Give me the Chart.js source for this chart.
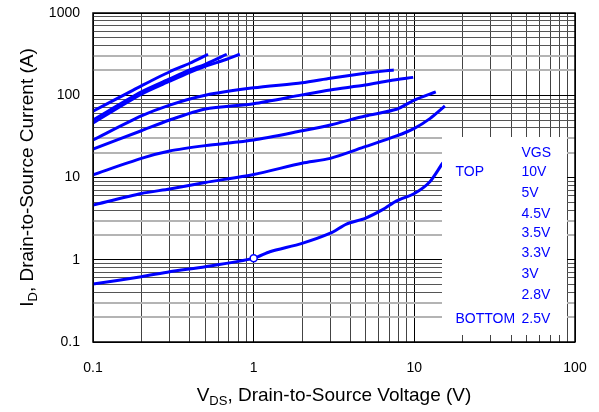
<!DOCTYPE html>
<html>
<head>
<meta charset="utf-8">
<script src="https://cdn.jsdelivr.net/npm/chart.js@4.4.1/dist/chart.umd.min.js"></script>
<style>
html, body { margin: 0; padding: 0; background: #fff; }
</style>
</head>
<body>
<canvas id="c" width="599" height="412"></canvas>
<script>
// output characteristics, one pair of arrays per gate voltage
const vds10V = [0.1, 0.164, 0.2, 0.3, 0.4, 0.52];
const id10V = [64, 106, 130, 193, 245, 315];
const vds5V = [0.1, 0.2, 0.3, 0.4, 0.5, 0.68];
const id5V = [50, 110, 158, 203, 238, 315];
const vds4p5V = [0.1, 0.2, 0.3, 0.4, 0.5, 0.68, 0.82];
const id4p5V = [46, 103, 148, 190, 225, 274, 315];
const vds3p5V = [0.1, 0.2, 0.3, 0.5, 1, 2, 3, 4.94, 7.45];
const id3p5V = [28.6, 56, 76, 100, 123, 142, 161, 185, 203];
const vds3p3V = [0.1, 0.2, 0.3, 0.5, 1, 2, 3, 4.94, 7, 9.84];
const id3p3V = [22.2, 37, 50, 68, 79, 101, 116, 133, 150, 165];
const vds3V = [0.1, 0.2, 0.3, 0.5, 1, 2, 3, 4.94, 7.75, 10, 13.6];
const id3V = [10.8, 17.1, 21, 24.4, 28.6, 37, 43.5, 56, 67.5, 87.5, 110];
const vds2p8V = [0.1, 0.2, 0.3, 0.5, 1, 2, 3, 4.94, 7.75, 10, 12.5, 15.5];
const id2p8V = [4.63, 6.4, 7.25, 8.7, 10.9, 14.9, 17.1, 23.7, 32, 39.6, 52, 74];
const vds2p5V = [0.1, 0.2, 0.3, 0.5, 1, 1.26, 2, 3, 3.78, 4.94, 6.39, 7.75, 10, 12.5, 15, 17];
const id2p5V = [0.507, 0.622, 0.716, 0.824, 1.04, 1.25, 1.58, 2.1, 2.72, 3.19, 4.1, 5.2, 6.4, 8.9, 14.9, 20];
// marked point on the bottom curve
const markVds = 1;

// axis ticks
const xDecades = [0.1, 1, 10];
const xMax = 100;
const yDecades = [0.1, 1, 10, 100];
const yMax = 1000;
const steps = [1, 2, 3, 4, 5, 6, 7, 8, 9];

const legendTitle = 'VGS';
const legendLeft = ['TOP', '', '', '', '', '', '', 'BOTTOM'];
const legendRight = ['10V', '5V', '4.5V', '3.5V', '3.3V', '3V', '2.8V', '2.5V'];

const BLUE = '#0000ff';
const FONT = '"Liberation Sans", Arial, sans-serif';

function tickList(decades, max) {
	const out = [];
	for (const d of decades) {
		for (const s of steps) out.push(+(d * s).toPrecision(3));
	}
	out.push(max);
	return out;
}
const xTicks = tickList(xDecades, xMax);
const yTicks = tickList(yDecades, yMax);

const isDecade = (v) => Math.abs(Math.log10(v) - Math.round(Math.log10(v))) < 1e-9;

function series(xs, ys) {
	return xs.map((x, i) => ({ x: x, y: ys[i] }));
}

const curves = [
	[vds10V, id10V], [vds5V, id5V], [vds4p5V, id4p5V], [vds3p5V, id3p5V],
	[vds3p3V, id3p3V], [vds3V, id3V], [vds2p8V, id2p8V], [vds2p5V, id2p5V],
];

const datasets = curves.map(([xs, ys], i) => ({
	label: legendRight[i],
	data: series(xs, ys),
	borderColor: BLUE,
	backgroundColor: '#ffffff',
	borderWidth: 3,
	tension: 0.25,
	pointRadius: xs.map((x) => (i === 7 && x === markVds ? 3.5 : 0)),
	pointBorderWidth: 1.5,
	pointBorderColor: BLUE,
	pointBackgroundColor: '#ffffff',
	order: i === 7 ? 0 : 1,
}));

// white legend box + labels, frame, axis titles with subscripts
const decor = {
	id: 'decor',
	afterDatasetsDraw(chart) {
		const { ctx, chartArea: a } = chart;
		ctx.save();
		ctx.fillStyle = '#ffffff';
		ctx.fillRect(a.left + 349, a.top + 124, 125, 198);

		ctx.fillStyle = BLUE;
		ctx.font = '14px ' + FONT;
		ctx.textBaseline = 'middle';
		ctx.textAlign = 'left';
		const rowsY = [159.5, 180, 201, 220.5, 240.5, 261, 282, 306.5];
		ctx.fillText(legendTitle, a.left + 428.5, a.top + 140);
		legendRight.forEach((t, i) => {
			ctx.fillText(t, a.left + 428.5, a.top + rowsY[i]);
			if (legendLeft[i]) ctx.fillText(legendLeft[i], a.left + 362.5, a.top + rowsY[i]);
		});

		ctx.strokeStyle = '#000';
		ctx.lineWidth = 1.5;
		ctx.strokeRect(a.left, a.top, a.right - a.left, a.bottom - a.top);

		// axis titles
		ctx.fillStyle = '#000';
		ctx.textBaseline = 'alphabetic';
		const big = '19px ' + FONT;
		const small = '13px ' + FONT;
		const drawTitle = (main1, sub, main2) => {
			ctx.font = big;
			const w1 = ctx.measureText(main1).width;
			const w3 = ctx.measureText(main2).width;
			ctx.font = small;
			const w2 = ctx.measureText(sub).width;
			const total = w1 + w2 + w3;
			let x = -total / 2;
			ctx.font = big;
			ctx.fillText(main1, x, 0);
			x += w1;
			ctx.font = small;
			ctx.fillText(sub, x, 4);
			x += w2;
			ctx.font = big;
			ctx.fillText(main2, x, 0);
		};
		ctx.save();
		ctx.translate((a.left + a.right) / 2, 401);
		drawTitle('V', 'DS', ', Drain-to-Source Voltage (V)');
		ctx.restore();

		ctx.save();
		ctx.translate(33, (a.top + a.bottom) / 2);
		ctx.rotate(-Math.PI / 2);
		drawTitle('I', 'D', ', Drain-to-Source Current (A)');
		ctx.restore();

		ctx.restore();
	},
};

function gridColor(c) {
	const v = c.tick && c.tick.value;
	if (v == null) return '#555';
	if (isDecade(v)) return '#000';
	return '#444';
}
function yGridColor(c) {
	const v = c.tick && c.tick.value;
	if (v == null) return '#555';
	if (isDecade(v)) return '#000';
	const s = Math.round(v / Math.pow(10, Math.floor(Math.log10(v) + 1e-9)));
	if (s === 2 || s === 3) return '#b4b4b4';
	return '#555';
}
function yGridWidth(c) {
	const v = c.tick && c.tick.value;
	if (v == null || isDecade(v)) return 1;
	const s = Math.round(v / Math.pow(10, Math.floor(Math.log10(v) + 1e-9)));
	return (s === 2 || s === 3) ? 2 : 1;
}

const tickLabel = (v) => (isDecade(v) ? String(+v.toPrecision(3)) : '');

new Chart(document.getElementById('c'), {
	type: 'line',
	data: { datasets: datasets },
	plugins: [decor],
	options: {
		responsive: false,
		animation: false,
		layout: { padding: { top: 13, right: 24, left: 0, bottom: 0 } },
		plugins: { legend: { display: false }, tooltip: { enabled: false } },
		scales: {
			x: {
				type: 'logarithmic',
				min: 0.1,
				max: 100,
				afterBuildTicks: (s) => { s.ticks = xTicks.map((v) => ({ value: v, major: isDecade(v) })); },
				afterFit: (s) => { s.height = 70; s.paddingLeft = 0; s.paddingRight = 0; },
				ticks: {
					autoSkip: false,
					maxRotation: 0,
					padding: 18,
					color: '#000',
					font: { family: FONT, size: 14 },
					callback: tickLabel,
				},
				grid: { color: gridColor, lineWidth: 1, drawTicks: false },
				border: { display: false },
			},
			y: {
				type: 'logarithmic',
				min: 0.1,
				max: 1000,
				afterBuildTicks: (s) => { s.ticks = yTicks.map((v) => ({ value: v, major: isDecade(v) })); },
				afterFit: (s) => { s.width = 93; s.paddingTop = 0; s.paddingBottom = 0; },
				ticks: {
					autoSkip: false,
					padding: 13,
					color: '#000',
					font: { family: FONT, size: 14 },
					callback: tickLabel,
				},
				grid: { color: yGridColor, lineWidth: yGridWidth, drawTicks: false },
				border: { display: false },
			},
		},
	},
});
</script>
</body>
</html>
